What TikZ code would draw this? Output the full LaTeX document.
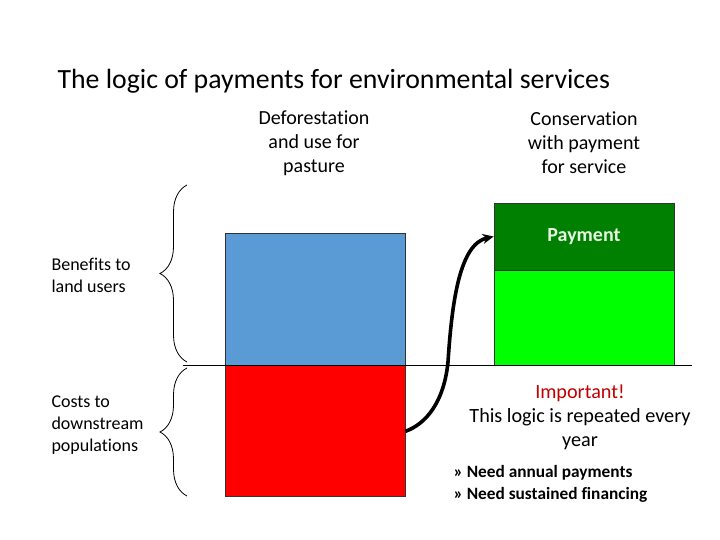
\documentclass[tikz,border=0pt]{standalone}
\usepackage{fontspec}
\setmainfont{Carlito}[Ligatures=CommonOff]
\usetikzlibrary{arrows.meta, positioning, decorations.pathreplacing}

\begin{document}
\begin{tikzpicture}[x=1pt, y=-1pt,
  bar/.style={rectangle, draw=black!80, line width=0.8pt, inner sep=0pt, minimum width=180pt},
  head/.style={align=center, font=\fontsize{20}{24}\selectfont},
  side/.style={align=left, anchor=west, font=\fontsize{18}{22}\selectfont},
  curly/.style={decorate, decoration={brace, amplitude=27pt}, line width=0.8pt},
  arrow/.style={-{Stealth[length=11pt, width=10pt]}, line width=3.6pt}
]
\useasboundingbox (0,0) rectangle (720,540);

% Title
\node[anchor=west, font=\fontsize{27.8}{30}\selectfont] (title) at (54,81) {The logic of payments for environmental services};

% Column headings
\node[head] (defor) at (314,143) {Deforestation\\and use for\\pasture};
\node[head] (conserv) at (584,143) {Conservation\\with payment\\for service};

% Bars
\node[bar, minimum height=132pt, fill={rgb,255:red,91;green,155;blue,213}] (benefit) at (315,299) {};
\node[bar, fill={rgb,255:red,255;green,0;blue,0}, minimum height=131pt, below=0pt of benefit] (cost) {};
\node[bar, fill={rgb,255:red,0;green,128;blue,0}, minimum height=67pt, text={rgb,255:red,230;green,245;blue,225}, font=\fontsize{20}{22}\selectfont\bfseries] (payment) at (584,236.5) {Payment};
\node[bar, fill={rgb,255:red,0;green,255;blue,0}, minimum height=95pt, below=0pt of payment] (conservbar) {};

% Baseline
\coordinate (axisL) at (183,365);
\coordinate (axisR) at (692,365);
\draw[line width=0.8pt] (axisL) -- (axisR);

% Braces
\coordinate (upTop) at (187,185);
\coordinate (upBot) at (187,362);
\coordinate (lowTop) at (187,368);
\coordinate (lowBot) at (187,496);
\draw[curly] (upBot) -- (upTop);
\draw[curly] (lowBot) -- (lowTop);

% Side labels
\node[side] (benefitlbl) at (48,275) {Benefits to\\land users};
\node[side] (costlbl) at (48,425) {Costs to\\downstream\\populations};

% Transfer arrow
\draw[arrow] (cost.east) .. controls (426,424) and (444,402) .. (448,362)
  .. controls (452,300) and (460,244) .. (payment.west);

% Notes
\node[align=center, font=\fontsize{20.2}{24}\selectfont] (note) at (580,417) {\textcolor[RGB]{192,0,0}{Important!}\\This logic is repeated every\\year};
\node[anchor=west, align=left, font=\fontsize{17.3}{22}\selectfont\bfseries] (bullets) at (450,484) {» Need annual payments\\» Need sustained financing};

\end{tikzpicture}
\end{document}
